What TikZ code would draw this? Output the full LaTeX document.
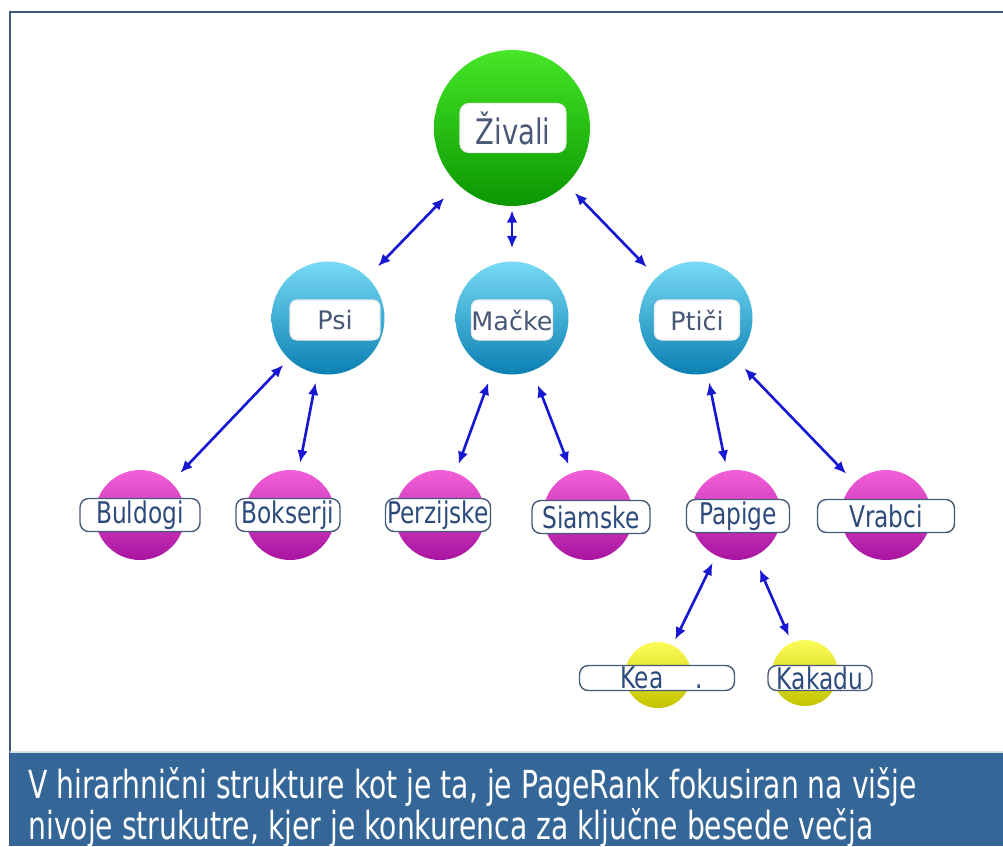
\documentclass[tikz,border=0pt]{standalone}
\usepackage{fontspec}
\setmainfont{DejaVu Sans}
\newfontfamily\narrowfont[FakeStretch=0.78]{DejaVu Sans}
\newfontfamily\captionfont[FakeStretch=0.73]{DejaVu Sans}
\usetikzlibrary{arrows.meta}

\definecolor{framecol}{RGB}{61,90,122}
\definecolor{bandcol}{RGB}{52,102,152}
\definecolor{linkcol}{RGB}{24,24,210}
\definecolor{tagtext}{RGB}{72,88,118}
\definecolor{leaftext}{RGB}{44,74,124}
\definecolor{tagborder}{RGB}{70,90,120}

\tikzset{
  ball/.style={circle,inner sep=0pt,draw=none},
  rootball/.style={ball,minimum size=3.12cm,
    top color={rgb,255:red,70;green,230;blue,40},
    middle color={rgb,255:red,20;green,205;blue,0},
    bottom color={rgb,255:red,10;green,150;blue,0}},
  midball/.style={ball,minimum size=2.26cm,
    top color={rgb,255:red,120;green,218;blue,245},
    middle color={rgb,255:red,40;green,182;blue,226},
    bottom color={rgb,255:red,10;green,128;blue,178}},
  leafball/.style={ball,minimum size=1.8cm,
    top color={rgb,255:red,242;green,95;blue,215},
    middle color={rgb,255:red,226;green,40;blue,200},
    bottom color={rgb,255:red,168;green,20;blue,160}},
  yellowball/.style={ball,minimum size=1.32cm,
    top color={rgb,255:red,252;green,252;blue,90},
    middle color={rgb,255:red,236;green,236;blue,0},
    bottom color={rgb,255:red,196;green,196;blue,0}},
  roottag/.style={rounded corners=5pt,fill=white,draw=white!85!gray,line width=0.6pt,
    inner sep=0pt,minimum width=2.12cm,minimum height=0.98cm,
    text=tagtext,font=\narrowfont\fontsize{20}{24}\selectfont},
  midtag/.style={rounded corners=4pt,fill=white,draw=white!85!gray,line width=0.6pt,
    inner sep=0pt,minimum height=0.8cm,
    text=tagtext,font=\fontsize{14.5}{17}\selectfont},
  leaftag/.style={rounded corners=5pt,fill=white,draw=tagborder,line width=0.8pt,
    inner sep=0pt,minimum height=0.66cm,
    text=leaftext,font=\narrowfont\fontsize{17}{20}\selectfont},
  smalltag/.style={leaftag,minimum height=0.5cm},
  link/.style={<->,linkcol,line width=1.5pt,shorten <=0.2cm,shorten >=0.2cm},
  captext/.style={anchor=base west,inner sep=0pt,text=white,
    font=\captionfont\fontsize{22}{26}\selectfont}
}

\begin{document}
\begin{tikzpicture}[x=0.02cm,y=-0.02cm,>={Latex[length=7pt,width=6pt]}]
\useasboundingbox (0,0) rectangle (1003,846);
% frame and caption band
\fill[white] (0,0) rectangle (1003,846);
\draw[framecol,line width=1.2pt] (10,846) -- (10,12) -- (1003,12);
\fill[bandcol] (10,752) rectangle (1003,846);
\draw[white!80!bandcol,line width=0.6pt] (10,752) -- (1003,752);

% balls
\node[rootball] (zivali) at (512,128) {};
\node[midball] (psi) at (328,318) {};
\node[midball] (macke) at (512,318) {};
\node[midball] (ptici) at (696,318) {};
\node[leafball] (buldogi) at (140,515) {};
\node[leafball] (bokserji) at (290,515) {};
\node[leafball] (perzijske) at (440,515) {};
\node[leafball] (siamske) at (588,515) {};
\node[leafball] (papige) at (736,515) {};
\node[leafball] (vrabci) at (886,515) {};
\node[yellowball] (kea) at (658,675) {};
\node[yellowball] (kakadu) at (805,673) {};

% labels
\node[roottag] (zivaliT) at (513,128) {Živali};
\node[midtag,minimum width=1.8cm] (psiT) at (335,320) {Psi};
\node[midtag,minimum width=1.58cm] (mackeT) at (512,320) {Mačke};
\node[midtag,minimum width=1.7cm] (pticiT) at (697,320) {Ptiči};
\node[leaftag,minimum width=2.4cm] (buldogiT) at (140,515) {Buldogi};
\node[leaftag,minimum width=2.08cm] (bokserjiT) at (288,515) {Bokserji};
\node[leaftag,minimum width=2.1cm] (perzijskeT) at (438,515) {Perzijske};
\node[leaftag,minimum width=2.36cm] (siamskeT) at (591,517) {Siamske};
\node[leaftag,minimum width=2.06cm] (papigeT) at (738,516) {Papige};
\node[leaftag,minimum width=2.74cm] (vrabciT) at (886,516) {Vrabci};
\node[smalltag,minimum width=3.1cm] (keaT) at (657,678) {\hspace{0.2cm}Kea\hspace{0.65cm}.};
\node[smalltag,minimum width=2.08cm] (kakaduT) at (820,678) {Kakadu};

% links
\draw[link,shorten <=0.38cm,shorten >=0.3cm] (zivali) -- (psi);
\draw[link,shorten <=0.08cm,shorten >=0.26cm] (zivali) -- (macke);
\draw[link,shorten <=0.24cm,shorten >=0.28cm] (zivali) -- (ptici);
\draw[link,shorten <=0.16cm,shorten >=0.26cm] (psi) -- (buldogi);
\draw[link,shorten <=0.18cm,shorten >=0.16cm] (psi) -- (bokserji);
\draw[link,shorten <=0.24cm,shorten >=0.18cm] (macke) -- (perzijske);
\draw[link,shorten <=0.3cm,shorten >=0.18cm] (macke) -- (siamske);
\draw[link,shorten <=0.18cm,shorten >=0.16cm] (ptici) -- (papige);
\draw[link,shorten <=0.26cm,shorten >=0.24cm] (ptici) -- (vrabci);
\draw[link,shorten <=0.16cm,shorten >=0.12cm] (papige) -- (kea);
\draw[link,shorten <=0.28cm,shorten >=0.14cm] (papige) -- (kakadu);

% caption
\node[captext] (cap1) at (28,798) {V hirarhnični strukture kot je ta, je PageRank fokusiran na višje};
\node[captext] (cap2) at (28,839) {nivoje strukutre, kjer je konkurenca za ključne besede večja};
\end{tikzpicture}
\end{document}
